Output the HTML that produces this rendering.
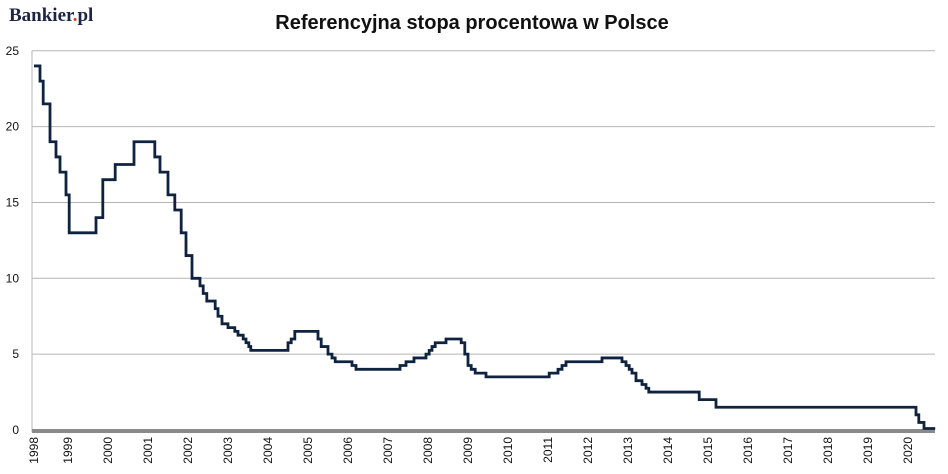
<!DOCTYPE html>
<html><head><meta charset="utf-8"><style>
body{margin:0;background:#fff;width:948px;height:474px;overflow:hidden;font-family:"Liberation Sans",sans-serif}
svg{display:block}
</style></head><body>
<svg id="chart" width="948" height="474" xmlns="http://www.w3.org/2000/svg">
<text x="9" y="21" font-family="Liberation Serif,serif" font-weight="bold" font-size="19" fill="#1d2547">Bankier<tspan fill="#e03a1e">.</tspan>pl</text>
<text x="472" y="29" text-anchor="middle" font-weight="bold" font-size="20" fill="#111">Referencyjna stopa procentowa w Polsce</text>
<g id="grid"></g><g id="xaxis"></g><g id="series"></g>
</svg>
<script>
const yTicks=[0,5,10,15,20,25];
const years=[1998,1999,2000,2001,2002,2003,2004,2005,2006,2007,2008,2009,2010,2011,2012,2013,2014,2015,2016,2017,2018,2019,2020];
const dates=[1998.15,1998.3,1998.38,1998.55,1998.7,1998.8,1998.95,1999.03,1999.7,1999.87,2000.18,2000.65,2001.17,2001.3,2001.5,2001.67,2001.83,2001.95,2002.1,2002.3,2002.38,2002.47,2002.68,2002.75,2002.85,2003.0,2003.17,2003.25,2003.38,2003.45,2003.52,2003.57,2004.5,2004.58,2004.67,2005.25,2005.33,2005.5,2005.6,2005.68,2006.1,2006.2,2007.3,2007.45,2007.65,2007.95,2008.03,2008.1,2008.18,2008.45,2008.83,2008.92,2009.0,2009.08,2009.18,2009.45,2011.03,2011.25,2011.35,2011.45,2012.35,2012.85,2012.95,2013.03,2013.1,2013.2,2013.35,2013.45,2013.52,2014.78,2015.2,2020.2,2020.27,2020.4,2020.68];
const rates=[24,23,21.5,19,18,17,15.5,13,14,16.5,17.5,19,18,17,15.5,14.5,13,11.5,10,9.5,9,8.5,8,7.5,7,6.75,6.5,6.25,6,5.75,5.5,5.25,5.75,6,6.5,6,5.5,5,4.75,4.5,4.25,4,4.25,4.5,4.75,5,5.25,5.5,5.75,6,5.75,5,4.25,4,3.75,3.5,3.75,4,4.25,4.5,4.75,4.5,4.25,4,3.75,3.25,3,2.75,2.5,2,1.5,1,0.5,0.1,0.1];
const NS="http://www.w3.org/2000/svg";
const X=t=>28+40*(t-1998), Y=v=>430-v*15.17;
const L=32,R=935;
const grid=document.getElementById('grid');
yTicks.forEach(v=>{
 if(v>0){const l=document.createElementNS(NS,'line');
 
 
 l.setAttribute('x1',L);l.setAttribute('x2',R);l.setAttribute('y1',Y(v));l.setAttribute('y2',Y(v));
 l.setAttribute('stroke','#b5b5b5');l.setAttribute('stroke-width','1');grid.appendChild(l);}
 const t=document.createElementNS(NS,'text');
 
 
 t.setAttribute('x',19);t.setAttribute('y',Y(v)+4);t.setAttribute('text-anchor','end');
 t.setAttribute('font-size','12');t.setAttribute('fill','#111');t.textContent=v;grid.appendChild(t);
});
const ya=document.createElementNS(NS,'line');


ya.setAttribute('x1',L);ya.setAttribute('x2',L);ya.setAttribute('y1',Y(25));ya.setAttribute('y2',432);
ya.setAttribute('stroke','#b5b5b5');grid.appendChild(ya);
const xa=document.getElementById('xaxis');
const base=document.createElementNS(NS,'rect');


base.setAttribute('x',L);base.setAttribute('y',429);base.setAttribute('width',R-L);base.setAttribute('height',4);
base.setAttribute('fill','#8a8a8a');xa.appendChild(base);
years.forEach((yr,i)=>{
 const x=i===0?34:X(yr);
 const t=document.createElementNS(NS,'text');
 
 
 t.setAttribute('transform','translate('+(x+4)+',437) rotate(-90)');
 t.setAttribute('text-anchor','end');t.setAttribute('font-size','12');t.setAttribute('fill','#111');
 t.textContent=yr;xa.appendChild(t);
});
let d='M'+X(dates[0])+','+Y(rates[0]);
for(let i=1;i<dates.length;i++){d+=' H'+X(dates[i])+' V'+Y(rates[i]);}
const p=document.createElementNS(NS,'path');


p.setAttribute('d',d);p.setAttribute('fill','none');p.setAttribute('stroke','#0f2341');p.setAttribute('stroke-width','2.8');
document.getElementById('series').appendChild(p);
</script>
</body></html>
